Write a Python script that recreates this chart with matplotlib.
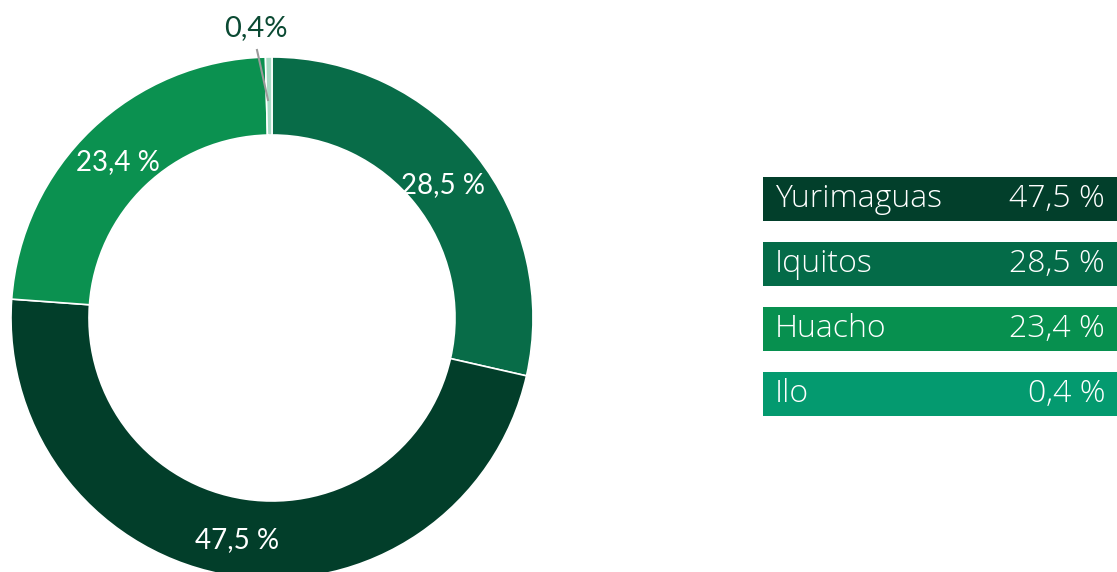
import matplotlib.pyplot as plt
from matplotlib.patches import Rectangle

plt.rcParams['font.family'] = ['Lato', 'DejaVu Sans']

# share by port, clockwise from the top
ports = ["Iquitos", "Yurimaguas", "Huacho", "Ilo"]
shares = [28.5, 47.5, 23.4, 0.4]
ring_colors = ["#086c48", "#023e2a", "#0b9150", "#a9dbc5"]

# side table order
table_ports = ["Yurimaguas", "Iquitos", "Huacho", "Ilo"]
table_shares = [47.5, 28.5, 23.4, 0.4]
table_colors = ["#023f2b", "#046b48", "#07904f", "#049a6f"]

W, H = 1117, 572
fig = plt.figure(figsize=(W / 100, H / 100), dpi=100)
ax = fig.add_axes([0, 0, 1, 1])

cx, cy = 272, H - 318
r_out, ring = 261, 78
wedges, _ = ax.pie(shares, radius=r_out, center=(cx, cy), startangle=90,
                   counterclock=False, colors=ring_colors,
                   wedgeprops=dict(width=ring, edgecolor="white", linewidth=1.2))

ax.set_xlim(0, W)
ax.set_ylim(0, H)
ax.set_aspect("equal")
ax.axis("off")

fmt = lambda v: f"{v:.1f}".replace(".", ",")

# slice labels
ax.text(443, H - 185, fmt(shares[0]) + " %", color="white", fontsize=20,
        ha="center", va="center")
ax.text(237, H - 540, fmt(shares[1]) + " %", color="white", fontsize=20,
        ha="center", va="center")
ax.text(118, H - 162, fmt(shares[2]) + " %", color="white", fontsize=20,
        ha="center", va="center")
ax.text(256, H - 28, fmt(shares[3]) + "%", color="#0b4a33", fontsize=21,
        ha="center", va="center")
ax.plot([257, 268], [H - 50, H - 100], color="#9a9a9a", lw=1.5)

# side table
x0, top, bh, step = 763, 177, 44, 65
table_font = dict(family=["Open Sans", "DejaVu Sans"], fontweight="light",
                  fontsize=23, color="white", va="center")
for i, (name, val, col) in enumerate(zip(table_ports, table_shares, table_colors)):
    y = H - (top + i * step) - bh
    ax.add_patch(Rectangle((x0, y), W - x0, bh, facecolor=col, edgecolor="none"))
    ax.text(775, y + bh / 2, name, ha="left", **table_font)
    ax.text(1105, y + bh / 2, fmt(val) + " %", ha="right", **table_font)

fig.savefig("out.png", dpi=100)
